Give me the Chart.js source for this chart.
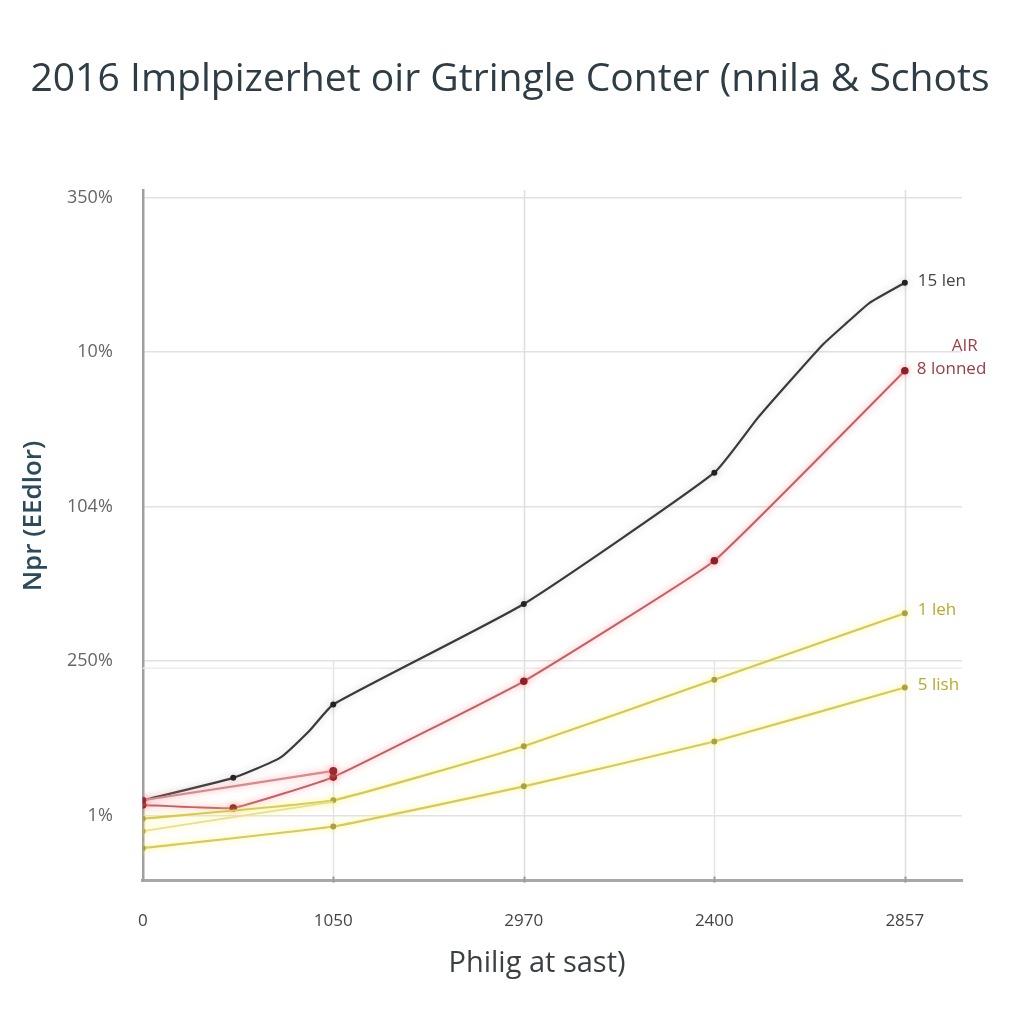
<!DOCTYPE html>
<html>
<head>
<meta charset="utf-8">
<script src="https://cdn.jsdelivr.net/npm/chart.js@4.4.1/dist/chart.umd.min.js"></script>
<style>
  html, body { margin: 0; padding: 0; background: #ffffff; }
  #wrap { width: 1024px; height: 1024px; }
</style>
</head>
<body>
<div id="wrap"><canvas id="c" width="1024" height="1024"></canvas></div>
<script>
// ---- data ----
const titleText = "2016 Implpizerhet oir Gtringle Conter (nnila & Schots";
const yAxisTitle = "Npr (EEdlor)";
const xAxisTitle = "Philig at sast)";
const xTickValues = [0, 2, 4, 6, 8];
const xTickLabels = ["0", "1050", "2970", "2400", "2857"];
const yTickValues = [0, 1, 2, 3, 4];
const yTickLabels = ["1%", "250%", "104%", "10%", "350%"];

const blackX = [0, 0.95, 1.44, 1.75, 2, 4, 6, 6.45, 6.79, 7.14, 7.39, 7.63, 8];
const blackY = [0.10, 0.245, 0.374, 0.55, 0.72, 1.37, 2.22, 2.57, 2.81, 3.05, 3.19, 3.32, 3.45];
const blackMarked = [true, true, false, false, true, true, true, false, false, false, false, false, true];

const redX = [0, 0.95, 2, 4, 6, 8];
const redY = [0.07, 0.05, 0.25, 0.87, 1.65, 2.88];

const pinkX = [0, 2];
const pinkY = [0.10, 0.29];

const yellowAX = [0, 2, 4, 6, 8];
const yellowAY = [-0.02, 0.10, 0.45, 0.88, 1.31];

const yellowMidX = [0, 2];
const yellowMidY = [-0.10, 0.09];

const yellowBX = [0, 2, 4, 6, 8];
const yellowBY = [-0.21, -0.07, 0.19, 0.48, 0.83];

const endLabels = ["15 len", "8 lonned", "1 leh", "5 lish"];
const redTopLabel = "AIR";

// ---- helpers ----
const pts = (xs, ys) => xs.map((x, i) => ({ x: x, y: ys[i] }));

const glowPlugin = {
  id: 'glow',
  beforeDatasetDraw(chart, args) {
    const ds = chart.data.datasets[args.index];
    if (ds.glow) {
      chart.ctx.save();
      chart.ctx.shadowColor = ds.glow;
      chart.ctx.shadowBlur = 7;
    }
  },
  afterDatasetDraw(chart, args) {
    const ds = chart.data.datasets[args.index];
    if (ds.glow) chart.ctx.restore();
  }
};

const gridPlugin = {
  id: 'vgrid',
  beforeDatasetsDraw(chart) {
    const ctx = chart.ctx, xs = chart.scales.x, ys = chart.scales.y, a = chart.chartArea;
    ctx.save();
    xTickValues.forEach((v, i) => {
      if (v === 0) return;
      const px = Math.round(xs.getPixelForValue(v)) + 0.5;
      const partial = (i === 1 || i === 3);
      const top = partial ? ys.getPixelForValue(yTickValues[1]) : a.top;
      ctx.strokeStyle = partial ? '#e4e4e4' : '#dedede';
      ctx.lineWidth = 1.5;
      ctx.beginPath();
      ctx.moveTo(px, top);
      ctx.lineTo(px, a.bottom);
      ctx.stroke();
      ctx.strokeStyle = '#9a9a9a';
      ctx.lineWidth = 2;
      ctx.beginPath();
      ctx.moveTo(px, a.bottom - 4);
      ctx.lineTo(px, a.bottom + 2);
      ctx.stroke();
    });
    const yy = ys.getPixelForValue(yTickValues[1]) + 7;
    ctx.strokeStyle = '#ececec';
    ctx.lineWidth = 1.5;
    ctx.beginPath();
    ctx.moveTo(a.left, yy);
    ctx.lineTo(a.right, yy);
    ctx.stroke();
    ctx.restore();
  }
};

const textPlugin = {
  id: 'texts',
  afterDraw(chart) {
    const ctx = chart.ctx, xs = chart.scales.x, ys = chart.scales.y;
    ctx.save();
    ctx.textAlign = 'center';
    ctx.textBaseline = 'middle';
    ctx.fillStyle = '#2e3d45';
    ctx.font = '39.1px "Open Sans", sans-serif';
    ctx.fillText(titleText, 510, 80);
    ctx.fillStyle = '#3a3f44';
    ctx.font = '29px "Open Sans", sans-serif';
    ctx.fillText(xAxisTitle, 537, 964);
    ctx.save();
    ctx.translate(34, 516);
    ctx.rotate(-Math.PI / 2);
    ctx.fillStyle = '#2b4a5c';
    ctx.font = '600 26px "Open Sans", sans-serif';
    ctx.fillText(yAxisTitle, 0, 0);
    ctx.restore();
    ctx.font = '17px "Open Sans", sans-serif';
    ctx.textAlign = 'left';
    const put = (text, xv, yv, color, dx, dy) => {
      ctx.fillStyle = color;
      ctx.fillText(text, xs.getPixelForValue(xv) + dx, ys.getPixelForValue(yv) + dy);
    };
    put(endLabels[0], blackX[blackX.length - 1], blackY[blackY.length - 1], '#454545', 13, -2);
    put(endLabels[1], redX[redX.length - 1], redY[redY.length - 1], '#9c3c44', 12, -2);
    ctx.textAlign = 'center';
    put(redTopLabel, redX[redX.length - 1], redY[redY.length - 1], '#a04048', 60, -25);
    ctx.textAlign = 'left';
    put(endLabels[2], yellowAX[yellowAX.length - 1], yellowAY[yellowAY.length - 1], '#b9aa2c', 13, -3);
    put(endLabels[3], yellowBX[yellowBX.length - 1], yellowBY[yellowBY.length - 1], '#b9aa2c', 13, -2);
    ctx.restore();
  }
};

new Chart(document.getElementById('c'), {
  type: 'line',
  data: {
    datasets: [
      {
        label: endLabels[3], data: pts(yellowBX, yellowBY),
        borderColor: '#d6cc55', backgroundColor: '#a9a243', borderWidth: 2.2,
        pointRadius: 3, pointBorderWidth: 0, tension: 0.1, glow: 'rgba(255,240,120,0.9)'
      },
      {
        label: 'mid', data: pts(yellowMidX, yellowMidY),
        borderColor: '#e6e092', backgroundColor: '#b7b050', borderWidth: 1.8,
        pointRadius: [3, 0], pointBorderWidth: 0, tension: 0.1, glow: 'rgba(255,240,120,0.9)'
      },
      {
        label: endLabels[2], data: pts(yellowAX, yellowAY),
        borderColor: '#d4ca50', backgroundColor: '#a9a243', borderWidth: 2.2,
        pointRadius: 3, pointBorderWidth: 0, tension: 0.1, glow: 'rgba(255,240,120,0.9)'
      },
      {
        label: redTopLabel, data: pts(pinkX, pinkY),
        borderColor: '#d98a8e', backgroundColor: '#9a2a30', borderWidth: 2.2,
        pointRadius: [3.5, 4], pointBorderWidth: 0, tension: 0.1, glow: 'rgba(255,160,160,0.9)'
      },
      {
        label: endLabels[1], data: pts(redX, redY),
        borderColor: '#c65e66', backgroundColor: '#8e1f27', borderWidth: 2,
        pointRadius: 3.8, pointBorderWidth: 0, tension: 0.1, glow: 'rgba(255,150,150,0.9)'
      },
      {
        label: endLabels[0], data: pts(blackX, blackY),
        borderColor: '#3a3a3a', backgroundColor: '#222222', borderWidth: 2.2,
        pointRadius: blackMarked.map(m => m ? 3 : 0), pointBorderWidth: 0,
        tension: 0.15, glow: 'rgba(120,120,120,0.35)'
      }
    ]
  },
  options: {
    responsive: false,
    animation: false,
    layout: { padding: { left: 37, right: 62, top: 190, bottom: 63 } },
    plugins: {
      legend: { display: false },
      tooltip: { enabled: false },
      title: { display: false }
    },
    scales: {
      x: {
        type: 'linear', min: 0, max: 8.6,
        afterBuildTicks: ax => { ax.ticks = xTickValues.map(v => ({ value: v })); },
        ticks: {
          color: '#444', font: { family: '"Open Sans", sans-serif', size: 17 }, padding: 30,
          maxRotation: 0, autoSkip: false,
          callback: v => { const i = xTickValues.indexOf(v); return i >= 0 ? xTickLabels[i] : ''; }
        },
        grid: { display: false, drawTicks: false },
        border: { display: true, color: '#a8a8a8', width: 3 },
        title: { display: false }
      },
      y: {
        type: 'linear', min: -0.42, max: 4.05,
        afterBuildTicks: ax => { ax.ticks = yTickValues.map(v => ({ value: v })); },
        ticks: {
          color: '#666', font: { family: '"Open Sans", sans-serif', size: 18 }, padding: 30,
          callback: v => { const i = yTickValues.indexOf(v); return i >= 0 ? yTickLabels[i] : ''; }
        },
        grid: { color: '#e2e2e2', lineWidth: 1.5, drawTicks: false },
        border: { display: true, color: '#a0a0a0', width: 2.5 },
        title: { display: false }
      }
    }
  },
  plugins: [gridPlugin, glowPlugin, textPlugin]
});
</script>
</body>
</html>
